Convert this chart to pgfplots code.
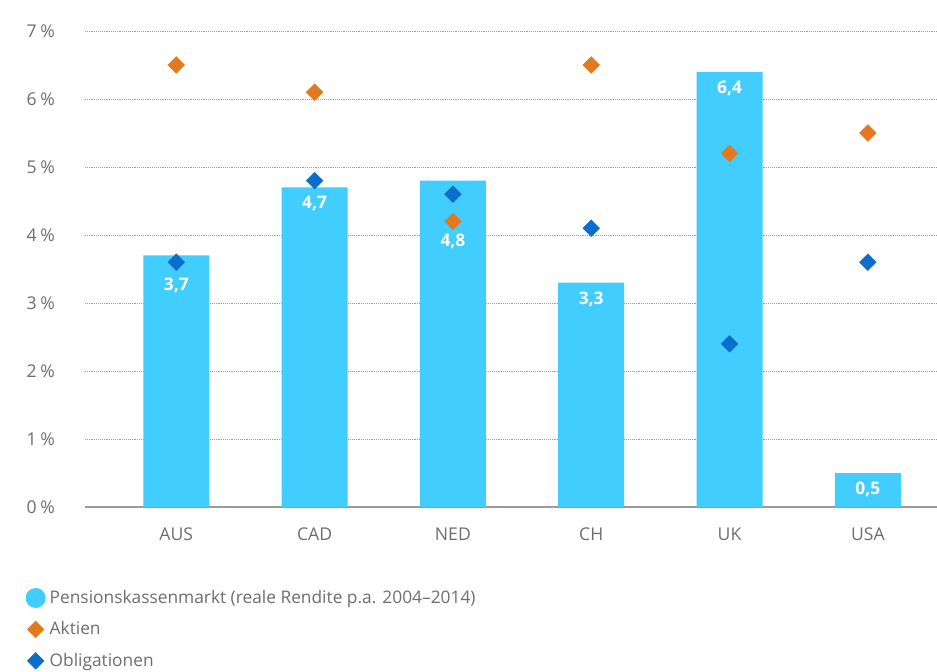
\documentclass[border=0pt]{standalone}
\usepackage{pgfplots}
\pgfplotsset{compat=1.18}
\usepackage{fontspec}
\setmainfont{Open Sans}
\definecolor{barblue}{HTML}{42CDFF}
\definecolor{aorange}{HTML}{E3791F}
\definecolor{oblue}{HTML}{0B6ECC}
\definecolor{txtgray}{HTML}{6E6E6E}
\definecolor{gridgray}{HTML}{9A9A9A}
\begin{document}
\begin{tikzpicture}
\path[use as bounding box] (-63.75pt,-123pt) rectangle (639pt,380.25pt);
\begin{axis}[
  at={(0,0)}, anchor=south west,
  scale only axis, width=639pt, height=357pt,
  xmin=-0.66, xmax=5.5, ymin=0, ymax=7,
  axis line style={draw=none},
  xtick={0,1,2,3,4,5},
  xticklabels={AUS,CAD,NED,CH,UK,USA},
  ytick={1,2,3,4,5,6,7},
  yticklabel={\pgfmathprintnumber{\tick}\hspace{0.22em}\%},
  extra y ticks={0},
  extra y tick labels={0\hspace{0.22em}\%},
  extra y tick style={grid style={solid, draw=gridgray, line width=1.5pt}},
  major tick length=0pt,
  ymajorgrids,
  grid style={densely dotted, draw=gridgray, line width=0.7pt},
  tick label style={font=\fontsize{13.2}{15}\selectfont, text=txtgray},
  /pgf/number format/assume math mode=true,
  yticklabel style={xshift=-19pt},
  xticklabel style={yshift=-12pt},
  legend style={at={(axis description cs:-0.0716,-0.169)}, anchor=north west,
    draw=none, fill=none, font=\fontsize{13}{15}\selectfont, text=txtgray,
    row sep=8.2pt, legend cell align=left, inner sep=0pt},
  legend cell align=left,
  diamondleg/.style={legend image code/.code={
    \path[draw=none,fill=none] (0cm,0cm) -- (0.6cm,0cm);
    \draw[only marks] plot coordinates {(0.3cm,0cm)};}},
]
\addplot[ybar, bar width=49.5pt, fill=barblue, draw=none,
  legend image code/.code={\path[draw=none,fill=none] (0cm,0cm) -- (0.6cm,0cm);
    \fill[barblue] (0.3cm,0) circle (7.5pt);}]
  coordinates {(0,3.7) (1,4.7) (2,4.8) (3,3.3) (4,6.4) (5,0.5)};
\addlegendentry{Pensionskassenmarkt (reale Rendite p.a. 2004--2014)}
\addplot[only marks, mark=square*, mark size=4.4pt, color=aorange,
  mark options={rotate=45}, diamondleg]
  coordinates {(0,6.5) (1,6.1) (2,4.2) (3,6.5) (4,5.2) (5,5.5)};
\addlegendentry{Aktien}
\addplot[only marks, mark=square*, mark size=4.4pt, color=oblue,
  mark options={rotate=45}, diamondleg]
  coordinates {(0,3.6) (1,4.8) (2,4.6) (3,4.1) (4,2.4) (5,3.6)};
\addlegendentry{Obligationen}
\begin{scope}[every node/.style={font=\bfseries\fontsize{13}{15}\selectfont, text=white}]
\node at (axis cs:0,3.26) {3,7};
\node at (axis cs:1,4.46) {4,7};
\node at (axis cs:2,3.9) {4,8};
\node at (axis cs:3,3.06) {3,3};
\node at (axis cs:4,6.16) {6,4};
\node at (axis cs:5,0.26) {0,5};
\end{scope}
\end{axis}
\end{tikzpicture}
\end{document}
